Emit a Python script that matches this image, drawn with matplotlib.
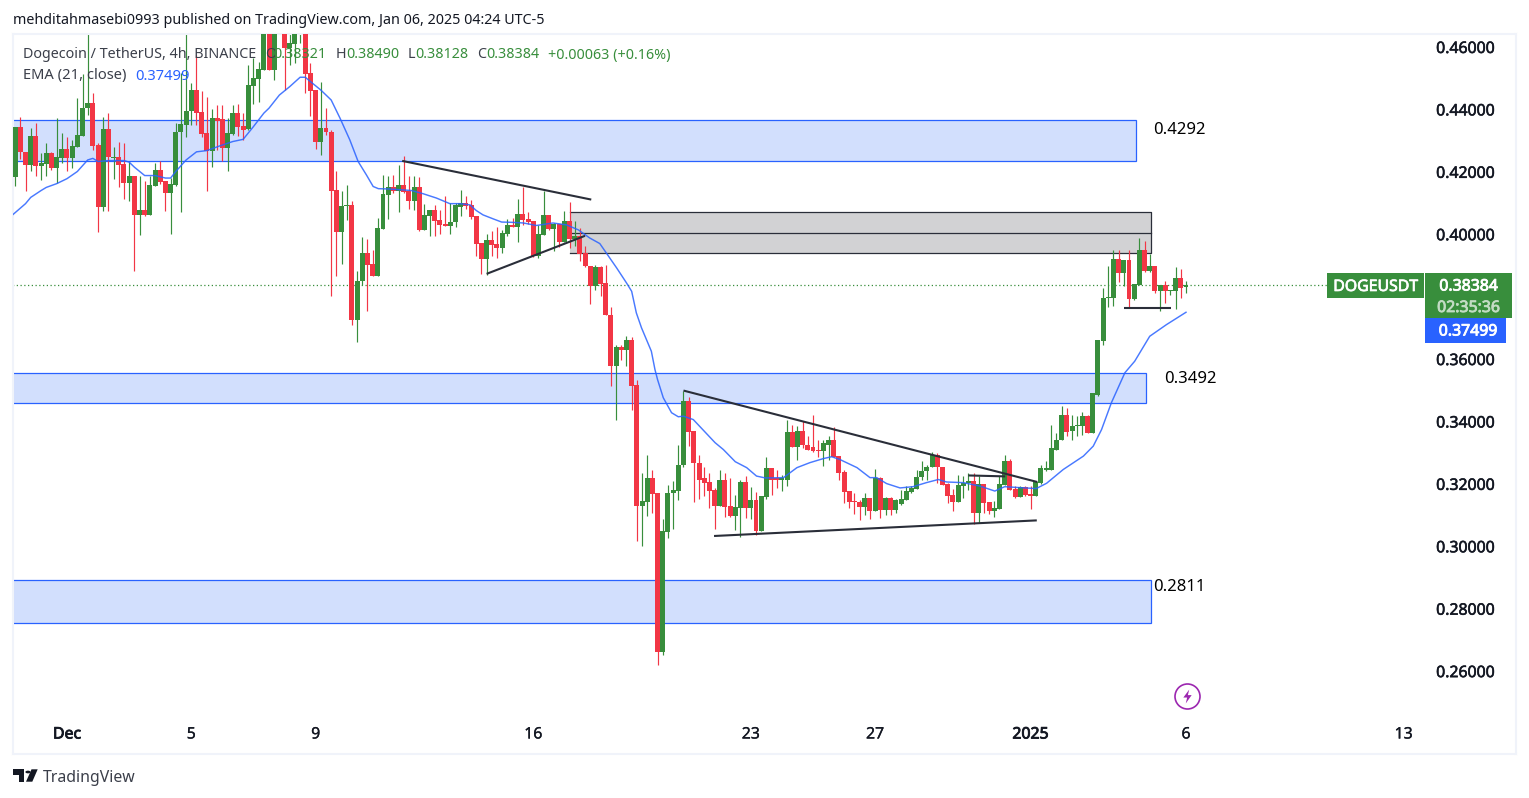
import matplotlib
matplotlib.use('Agg')
import matplotlib.pyplot as plt
import matplotlib.patheffects as pe
import numpy as np
from matplotlib.patches import Rectangle, Polygon, Circle

plt.rcParams['font.family'] = ['Noto Sans', 'DejaVu Sans']

W, H = 1529, 798

opens = [.4182,.4343,.4264,.4223,.4315,.4219,.4226,.4260,.4213,.4245,
         .4274,.4245,.4281,.4315,.4403,.4421,.4286,.4086,.4338,.4245,
         .4248,.4224,.4165,.4187,.4060,.4078,.4062,.4156,.4206,.4170,
         .4131,.4158,.4326,.4351,.4395,.4462,.4392,.4324,.4268,.4373,
         .4369,.4275,.4322,.4388,.4347,.4336,.4475,.4499,.4526,.4700,
         .4526,.4700,.4720,.4596,.4610,.4645,.4690,.4516,.4462,.4294,
         .4341,.4328,.4142,.4006,.4089,.4094,.3726,.3849,.3940,.3906,
         .3865,.4018,.4126,.4152,.4140,.4158,.4139,.4105,.4152,.4014,
         .4059,.4078,.4046,.4032,.4027,.4038,.4088,.4101,.4094,.4059,
         .3973,.3922,.3982,.3969,.3957,.4002,.4029,.4024,.4066,.4050,
         .4043,.3931,.3998,.4062,.4017,.4034,.3976,.4043,.3985,.3995,
         .3940,.3899,.3835,.3896,.3844,.3742,.3579,.3640,.3628,.3662,
         .3518,.3129,.3142,.3218,.3170,.2662,.3046,.3170,.3177,.3259,
         .3464,.3368,.3268,.3218,.3205,.3179,.3129,.3214,.3128,.3097,
         .3122,.3205,.3122,.3147,.3048,.3157,.3250,.3218,.3214,.3214,
         .3365,.3317,.3371,.3326,.3317,.3307,.3304,.3326,.3342,.3288,
         .3237,.3176,.3144,.3141,.3125,.3154,.3112,.3218,.3115,.3154,
         .3115,.3135,.3148,.3174,.3185,.3221,.3240,.3253,.3294,.3255,
         .3199,.3163,.3142,.3193,.3202,.3208,.3106,.3199,.3141,.3112,
         .3121,.3196,.3274,.3183,.3157,.3189,.3166,.3161,.3204,.3246,
         .3246,.3310,.3339,.3422,.3368,.3387,.3387,.3419,.3364,.3486,
         .3659,.3795,.3797,.3922,.3877,.3918,.3792,.3838,.3950,.3882,
         .3899,.3819,.3838,.3819,.3819,.3861,.38321]
highs = [.4343,.4375,.4264,.4340,.4356,.4260,.4292,.4265,.4372,.4324,
         .4311,.4302,.4436,.4512,.4660,.4452,.4292,.4375,.4388,.4281,
         .4297,.4292,.4233,.4187,.4185,.4171,.4187,.4228,.4234,.4170,
         .4180,.4356,.4516,.4660,.4484,.4574,.4459,.4441,.4401,.4414,
         .4414,.4372,.4414,.4418,.4388,.4542,.4564,.4553,.4720,.4730,
         .4740,.4760,.4760,.4680,.4700,.4700,.4720,.4548,.4462,.4489,
         .4404,.4334,.4201,.4137,.4158,.4107,.3883,.3991,.3986,.3950,
         .4052,.4190,.4187,.4190,.4222,.4251,.4187,.4187,.4183,.4098,
         .4078,.4094,.4078,.4123,.4100,.4100,.4142,.4121,.4110,.4059,
         .3973,.4002,.4009,.4023,.4012,.4050,.4052,.4114,.4152,.4072,
         .4043,.4030,.4139,.4062,.4036,.4034,.4075,.4104,.4041,.4020,
         .3963,.3899,.3902,.3899,.3902,.3767,.3646,.3646,.3675,.3671,
         .3534,.3236,.3291,.3246,.3170,.3089,.3197,.3209,.3323,.3499,
         .3479,.3368,.3294,.3255,.3236,.3188,.3246,.3236,.3218,.3163,
         .3214,.3224,.3189,.3175,.3161,.3287,.3250,.3243,.3230,.3406,
         .3390,.3384,.3401,.3355,.3422,.3342,.3342,.3353,.3381,.3288,
         .3246,.3176,.3172,.3148,.3170,.3154,.3249,.3221,.3157,.3157,
         .3153,.3180,.3193,.3193,.3246,.3273,.3262,.3302,.3298,.3255,
         .3202,.3182,.3230,.3225,.3236,.3236,.3225,.3199,.3141,.3145,
         .3225,.3291,.3280,.3193,.3193,.3193,.3193,.3208,.3262,.3273,
         .3390,.3362,.3451,.3442,.3422,.3417,.3431,.3422,.3492,.3662,
         .3828,.3897,.3950,.3950,.3918,.3950,.3841,.3988,.3979,.3938,
         .3899,.3838,.3851,.3822,.3895,.3887,.38490]
lows = [.4155,.4241,.4140,.4204,.4187,.4174,.4185,.4206,.4164,.4228,
        .4204,.4212,.4281,.4315,.4382,.4270,.4006,.4073,.4076,.4178,
        .4151,.4113,.4108,.3881,.3998,.4057,.4062,.4156,.4162,.4076,
        .4002,.4155,.4070,.4313,.4351,.4351,.4311,.4137,.4217,.4270,
        .4236,.4201,.4318,.4315,.4302,.4334,.4418,.4425,.4526,.4526,
        .4494,.4650,.4462,.4542,.4548,.4612,.4452,.4379,.4273,.4254,
        .4318,.3801,.3867,.3906,.4046,.3710,.3654,.3836,.3753,.3865,
        .3865,.4016,.4050,.4132,.4070,.4132,.4082,.4078,.4011,.4014,
        .3993,.3995,.4002,.4027,.4002,.4023,.4059,.4081,.4049,.3931,
        .3874,.3870,.3929,.3924,.3940,.3995,.4022,.3974,.4030,.4034,
        .3927,.3924,.3998,.4014,.3945,.3959,.3976,.3956,.3963,.3913,
        .3895,.3778,.3822,.3801,.3740,.3513,.3404,.3598,.3577,.3436,
        .3017,.3001,.3097,.3108,.2620,.2651,.3027,.3054,.3148,.3255,
        .3321,.3142,.3150,.3161,.3123,.3054,.3129,.3095,.3095,.3052,
        .3031,.3091,.3086,.3035,.3048,.3150,.3164,.3186,.3177,.3193,
        .3317,.3278,.3314,.3308,.3302,.3285,.3257,.3278,.3285,.3211,
        .3138,.3124,.3102,.3084,.3099,.3086,.3112,.3091,.3099,.3099,
        .3108,.3133,.3148,.3172,.3182,.3212,.3212,.3253,.3204,.3196,
        .3138,.3113,.3142,.3156,.3180,.3070,.3076,.3106,.3102,.3095,
        .3121,.3196,.3180,.3155,.3157,.3161,.3118,.3161,.3198,.3242,
        .3246,.3310,.3339,.3355,.3340,.3353,.3358,.3362,.3364,.3481,
        .3646,.3767,.3771,.3846,.3835,.3764,.3790,.3838,.3880,.3880,
        .3812,.3753,.3780,.3806,.3761,.3796,.38128]
closes = [.4343,.4262,.4223,.4315,.4219,.4228,.4260,.4213,.4248,.4274,
          .4245,.4283,.4317,.4405,.4421,.4283,.4086,.4338,.4247,.4247,
          .4223,.4165,.4187,.4060,.4078,.4062,.4158,.4206,.4168,.4131,
          .4162,.4328,.4354,.4395,.4462,.4390,.4322,.4268,.4373,.4364,
          .4275,.4324,.4388,.4345,.4334,.4478,.4501,.4529,.4680,.4526,
          .4700,.4720,.4596,.4614,.4640,.4680,.4514,.4460,.4294,.4340,
          .4326,.4140,.4006,.4091,.4094,.3726,.3851,.3940,.3902,.3865,
          .4020,.4130,.4152,.4140,.4158,.4135,.4105,.4152,.4014,.4062,
          .4078,.4043,.4030,.4027,.4040,.4094,.4101,.4092,.4056,.3970,
          .3922,.3982,.3966,.3957,.4005,.4030,.4024,.4066,.4046,.4039,
          .3931,.4002,.4062,.4017,.4034,.3976,.4043,.3986,.3995,.3938,
          .3897,.3835,.3896,.3842,.3740,.3579,.3640,.3628,.3662,.3515,
          .3129,.3144,.3218,.3166,.2662,.3048,.3172,.3179,.3262,.3464,
          .3367,.3268,.3214,.3202,.3177,.3129,.3214,.3125,.3097,.3125,
          .3205,.3122,.3147,.3048,.3160,.3250,.3214,.3214,.3220,.3365,
          .3317,.3371,.3323,.3310,.3304,.3305,.3330,.3342,.3287,.3234,
          .3173,.3141,.3141,.3125,.3154,.3112,.3218,.3115,.3154,.3115,
          .3147,.3150,.3176,.3187,.3223,.3242,.3255,.3294,.3255,.3196,
          .3161,.3142,.3195,.3204,.3208,.3106,.3199,.3138,.3113,.3123,
          .3199,.3274,.3180,.3157,.3189,.3163,.3161,.3206,.3250,.3250,
          .3314,.3342,.3422,.3366,.3387,.3389,.3419,.3364,.3490,.3662,
          .3796,.3799,.3922,.3877,.3918,.3793,.3841,.3950,.3882,.3899,
          .3819,.3838,.3819,.3822,.3861,.3829,.38384]

# bar number, counted from Dec 1 00:00, 6 bars a day
ema_pos = [-10.5,-8,-7,-5,-4,-2,0,2,4,5,6,8,11,12,13,15,17,19,20,21,23,25,27,29.5,32,34,36,38,39,41,
           43,45,46,47,49,51,52.7,54.6,56.2,57.8,59.1,60.1,62,64.9,66.5,68.7,71.3,73.9,75.8,77.8,79,80.3,82.3,
           83.9,86.1,88.1,90.6,93.8,96.4,98.7,100.9,102.85,104.1,106.1,108,109,109.9,110.9,112.8,113.5,114,
           115.1,116.7,118,119,120.9,125.1,126.7,129,131.2,133.1,134.8,138.3,140.9,143.4,146,147.6,
           149.2,152.5,155,156.3,158.2,160.8,163.3,165.9,168.2,169.8,173,176.2,179.1,181,183.9,187.1,
           189.1,192.3,196.2,198.1,199.7,201.6,204.2,206.1,209,212.2,216]
ema_val = [.4062,.4098,.4118,.4140,.4150,.4162,.4178,.4201,.4238,.4243,.4233,.4236,.4236,.4231,.4215,
           .4188,.4188,.4180,.4180,.4201,.4238,.4264,.4268,.4283,.4297,.4304,.4345,.4388,.4404,.4446,
           .4473,.4503,.4503,.4489,.4462,.4430,.4372,.4302,.4233,.4190,.4153,.4146,.4145,.4142,.4140,
           .4130,.4116,.4098,.4098,.4094,.4076,.4062,.4049,.4039,.4038,.4036,.4028,.4036,.4030,.4014,
           .3988,.3970,.3940,.3892,.3844,.3817,.3748,.3700,.3625,.3566,.3534,.3476,.3428,.3415,.3417,.3406,
           .3332,.3310,.3271,.3252,.3225,.3219,.3220,.3252,.3268,.3281,.3287,.3278,.3252,.3220,.3220,
           .3201,.3187,.3191,.3204,.3214,.3206,.3204,.3193,.3177,.3191,.3188,.3185,.3202,.3246,.3289,
           .3321,.3374,.3460,.3556,.3593,.3673,.3710,.37499]

zone_tops = [.4366, .3554, .2891]
zone_bottoms = [.4235, .3458, .2754]
zone_ends = [206.4, 208.3, 209.3]
zone_labels = ['0.4292', '0.3492', '0.2811']

gray_top, gray_mid, gray_bottom = .4072, .4005, .3941
gray_start, gray_end = 97.1, 209.3

# trend lines as (bar, price, bar, price)
trend_lines = [(64.7, .4235, 101.2, .4111), (81, .3873, 100, .3995),
               (119, .3499, 187.3, .3206), (124.9, .3033, 187.2, .3083),
               (174, .3227, 181.1, .3224), (204, .3763, 213.2, .3763)]

price_ticks = [.26, .28, .30, .32, .34, .36, .40, .42, .44, .46]
date_pos = [0, 24, 48, 90, 132, 156, 186, 216, 258]
date_labels = ['Dec', '5', '9', '16', '23', '27', '2025', '6', '13']

GREEN = '#388e3c'
RED = '#f23645'
BLUE = '#2962ff'
FRAME = '#f0f3fa'
INK = '#131722'


def fx(x):
    return x / W


def fy(y):
    return 1 - y / H


def heavy(width):
    return [pe.withStroke(linewidth=width, foreground='none'), pe.Stroke(linewidth=width), pe.Normal()]


def fig_text(x, y, s, thick=0, **kw):
    kw.setdefault('va', 'center')
    kw.setdefault('color', INK)
    kw.setdefault('fontsize', 10.3)
    t = fig.text(fx(x), fy(y), s, **kw)
    if thick:
        t.set_path_effects([pe.withStroke(linewidth=thick, foreground=kw['color'])])


def fig_box(x0, y0, x1, y1, color):
    fig.add_artist(Rectangle((fx(x0), fy(y1)), fx(x1) - fx(x0), fy(y0) - fy(y1),
                             transform=fig.transFigure, fc=color, ec='none', zorder=5))


fig = plt.figure(figsize=(W / 100, H / 100), dpi=100, facecolor='white')
ax = fig.add_axes([fx(13), fy(754), fx(1516) - fx(13), fy(34) - fy(754)])
ax.set_xlim(-10.42, 279.7)
ax.set_ylim(.23344, .46416)

for top, bottom, end in zip(zone_tops, zone_bottoms, zone_ends):
    ax.add_patch(Rectangle((-12, bottom), end + 12, top - bottom, fc='#d2dffd', ec=BLUE, lw=0.9, zorder=1))

ax.add_patch(Rectangle((gray_start, gray_bottom), gray_end - gray_start, gray_top - gray_bottom,
                       fc='#d2d2d4', ec='none', zorder=1))
ax.plot([gray_start, gray_end, gray_end, gray_start], [gray_top, gray_top, gray_bottom, gray_bottom],
        color='#2a2e39', lw=0.9, zorder=1.5)
ax.plot([gray_start, gray_end], [gray_mid, gray_mid], color='#2a2e39', lw=0.9, zorder=1.5)

x = np.arange(-10, 217)
o, h, l, c = map(np.array, (opens, highs, lows, closes))
colors = np.where(c >= o, GREEN, RED)
ax.vlines(x, l, h, colors=colors, lw=0.85, zorder=2)
ax.bar(x, np.maximum(np.abs(c - o), 0.0003), bottom=np.minimum(o, c), width=0.96, color=colors, zorder=3)

ax.plot(ema_pos, ema_val, color=BLUE, lw=1.05, alpha=0.85, zorder=4)

for x0, y0, x1, y1 in trend_lines:
    ax.plot([x0, x1], [y0, y1], color='#2a2e39', lw=1.5, solid_capstyle='butt', zorder=5)

ax.plot([-12, 243.8], [closes[-1], closes[-1]], color=GREEN, lw=0.9, ls=(0, (1, 2)), zorder=1.8)

# lightning badge
ax.plot([216.2], [.2520], 'o', ms=18, mfc='white', mec='#9c27b0', mew=1.2, zorder=5)
bolt = [(0.25, 1), (-0.6, -0.15), (-0.05, -0.15), (-0.25, -1), (0.6, 0.2), (0.05, 0.2)]
ax.plot([216.2], [.2520], marker=bolt, ms=10, mfc='#9c27b0', mec='none', zorder=6)

ax.set_yticks(price_ticks)
ax.set_yticklabels([f'{p:.5f}' for p in price_ticks])
ax.set_xticks(date_pos)
ax.set_xticklabels(date_labels)
ax.yaxis.tick_right()
ax.tick_params(axis='y', length=0, pad=-57.5, labelsize=11.4, labelcolor=INK)
ax.tick_params(axis='x', length=0, pad=-19.8, labelsize=11.4, labelcolor=INK)
for lab in ax.get_xticklabels():
    width = 0.6 if lab.get_text() in ('Dec', '2025') else 0.2
    lab.set_path_effects([pe.withStroke(linewidth=width, foreground=INK)])
for lab in ax.get_yticklabels():
    lab.set_path_effects([pe.withStroke(linewidth=0.4, foreground=INK)])
for spine in ax.spines.values():
    spine.set_color(FRAME)
    spine.set_linewidth(1.5)

# header and legend
fig_text(13, 20.5, 'mehditahmasebi0993 published on TradingView.com, Jan 06, 2025 04:24 UTC-5')
fig_text(23, 55, 'Dogecoin / TetherUS, 4h, BINANCE', color='#3b3f4a')
fig_text(23, 76, 'EMA (21, close)', color='#3b3f4a', fontsize=10.6)
fig_text(135, 76, '0.37499', color=BLUE, fontsize=10.6)
for px, s, col in [(265, 'O', '#3b3f4a'), (273, '0.38321', GREEN), (336, 'H', '#3b3f4a'), (346, '0.38490', GREEN),
                   (408, 'L', '#3b3f4a'), (415, '0.38128', GREEN), (477, 'C', '#3b3f4a'), (486, '0.38384', GREEN),
                   (548, '+0.00063 (+0.16%)', GREEN)]:
    fig_text(px, 55, s, color=col)

# level labels next to the zones
for px, py, s in [(1153, 130, zone_labels[0]), (1164, 379, zone_labels[1]), (1153, 587, zone_labels[2])]:
    fig_text(px, py, s, fontsize=12, color='black')

# last price tags
fig_box(1327, 273, 1424, 298, GREEN)
fig_box(1425, 273, 1512, 318, GREEN)
fig_box(1425, 318, 1506, 343, BLUE)
fig_text(1375.5, 287, 'DOGEUSDT', thick=0.5, ha='center', color='white', fontsize=11.4, zorder=6)
fig_text(1468.5, 286.5, '0.38384', thick=0.6, ha='center', color='white', fontsize=11.4, zorder=6)
fig_text(1468.5, 308, '02:35:36', thick=0.6, ha='center', color='#c3dcc4', fontsize=11.4, zorder=6)
fig_text(1468, 331.5, '0.37499', thick=0.6, ha='center', color='white', fontsize=11.4, zorder=6)

# TradingView mark
tv_t = [(13, 769.3), (24.3, 769.3), (24.3, 781.7), (18.5, 781.7), (18.5, 775), (13, 775)]
tv_s = [(31.5, 769.3), (37.7, 769.3), (32.3, 781.7), (26, 781.7)]
for shape in (tv_t, tv_s):
    fig.add_artist(Polygon([(fx(a), fy(b)) for a, b in shape], transform=fig.transFigure, fc=INK, ec='none'))
fig.add_artist(Circle((fx(28), fy(772)), 2.6 / W, transform=fig.transFigure, fc=INK, ec='none'))
fig_text(43, 777.5, 'TradingView', fontsize=11.4, color='#3b3f4a')

fig.savefig('out.png', dpi=100)
